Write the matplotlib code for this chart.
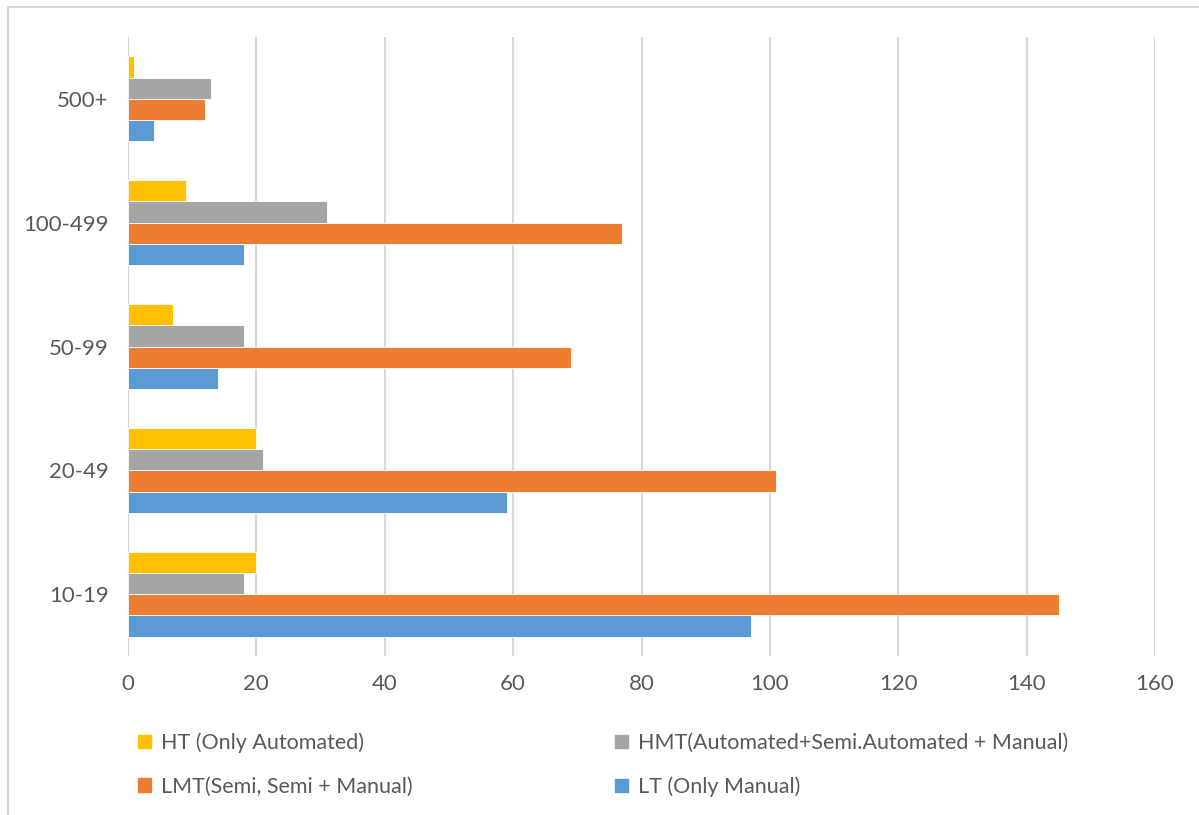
import matplotlib
matplotlib.use('Agg')
import matplotlib.pyplot as plt
from matplotlib.patches import Patch
from matplotlib.lines import Line2D
import numpy as np

# data
categories = ['10-19', '20-49', '50-99', '100-499', '500+']
lt = [97, 59, 14, 18, 4]
lmt = [145, 101, 69, 77, 12]
hmt = [18, 21, 18, 31, 13]
ht = [20, 20, 7, 9, 1]
series_names = ['LT (Only Manual)', 'LMT(Semi, Semi + Manual)',
                'HMT(Automated+Semi.Automated + Manual)', 'HT (Only Automated)']
x_ticks = [0, 20, 40, 60, 80, 100, 120, 140, 160]

colors = ['#5B9BD5', '#ED7D31', '#A5A5A5', '#FFC000']
text_col = '#595959'
grid_col = '#D9D9D9'

plt.rcParams['font.family'] = ['Lato', 'DejaVu Sans']

W, H = 1199, 815
fig = plt.figure(figsize=(W / 100, H / 100), dpi=100)
ax = fig.add_axes([128 / W, 1 - 656 / H, (1155 - 128) / W, (656 - 37) / H])

y = np.arange(len(categories))
bh = 0.172
all_series = [lt, lmt, hmt, ht]
for i, (vals, c, name) in enumerate(zip(all_series, colors, series_names)):
    offs = (i - 1.5) * bh
    ax.barh(y + offs, vals, height=bh, color=c, edgecolor='white', linewidth=0.6,
            label=name, zorder=3)

ax.set_xlim(0, 160)
ax.set_ylim(-0.5, 4.5)
ax.set_xticks(x_ticks)
ax.set_yticks(y)
ax.set_yticklabels(categories)
ax.grid(axis='x', color=grid_col, linewidth=1.5, zorder=0)
for s in ax.spines.values():
    s.set_visible(False)
ax.tick_params(axis='both', length=0, labelsize=16, colors=text_col)
ax.tick_params(axis='x', pad=13)
ax.tick_params(axis='y', pad=14)

# legend in the Excel order: HT, HMT / LMT, LT
h_ht = Patch(color=colors[3], label=series_names[3])
h_hmt = Patch(color=colors[2], label=series_names[2])
h_lmt = Patch(color=colors[1], label=series_names[1])
h_lt = Patch(color=colors[0], label=series_names[0])
leg = fig.legend(handles=[h_ht, h_lmt, h_hmt, h_lt], ncol=2, frameon=False,
                 loc='upper left', bbox_to_anchor=(119 / W, 1 - 713 / H),
                 fontsize=15.5, handlelength=0.6, handleheight=0.6,
                 handletextpad=0.45, labelspacing=1.1, columnspacing=9.4)
for t in leg.get_texts():
    t.set_color(text_col)

# outer chart frame (only top and left visible in the crop)
fig.add_artist(Line2D([8 / W, 8 / W], [0, 1 - 7 / H], color=grid_col, linewidth=1.5))
fig.add_artist(Line2D([8 / W, 1], [1 - 7 / H, 1 - 7 / H], color=grid_col, linewidth=1.5))

fig.savefig('out.png', dpi=100)
